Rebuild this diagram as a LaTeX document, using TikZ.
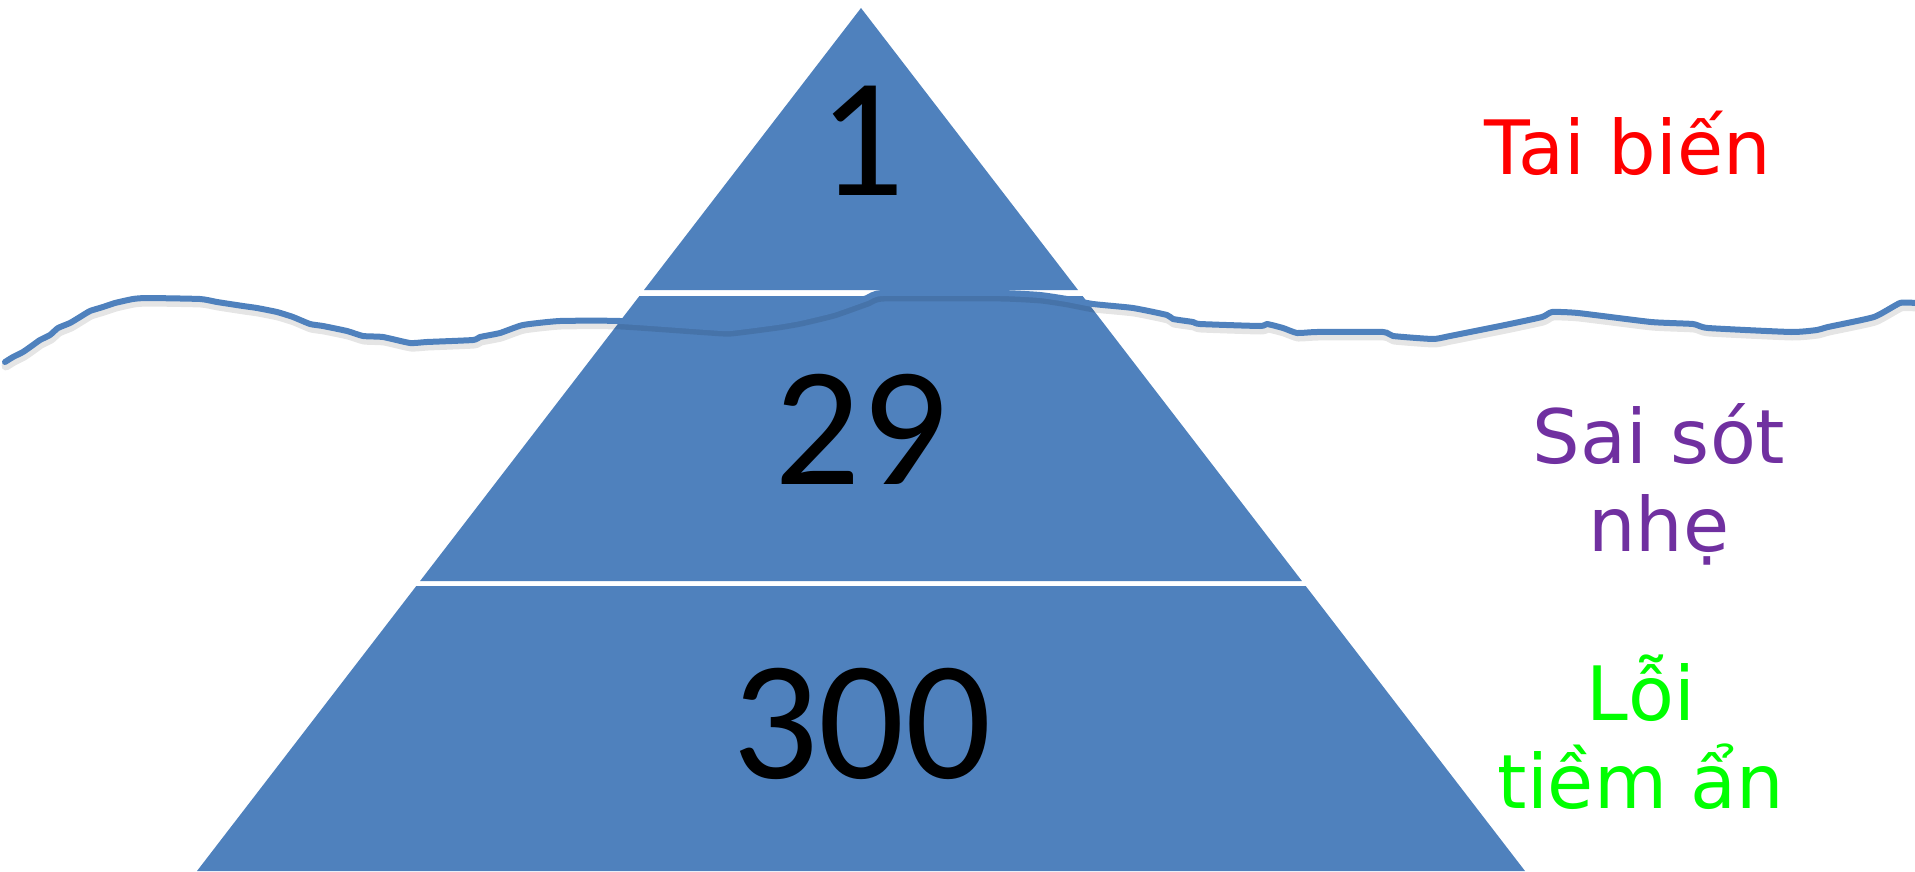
\documentclass[tikz,border=0pt]{standalone}
\usepackage{fontspec}
\newfontfamily\labfont{DejaVu Sans}
\newfontfamily\numfont{Carlito}
\definecolor{pyrblue}{HTML}{4F81BD}
\definecolor{labred}{HTML}{FF0000}
\definecolor{labpurple}{HTML}{7030A0}
\definecolor{labgreen}{HTML}{00FF00}
\tikzset{
  layer/.style={fill=pyrblue, draw=none},
  numtext/.style={font=\numfont\fontsize{170}{170}\selectfont, text=black, inner sep=0pt, anchor=base},
  labtext/.style={font=\labfont\fontsize{75}{88}\selectfont, inner sep=0pt, anchor=base, align=center},
  wave/.style={draw=pyrblue, line width=6pt, line cap=round, line join=round},
  waveshadow/.style={draw=black, opacity=0.10, line width=9pt, line cap=round, line join=round}
}
\begin{document}
\begin{tikzpicture}[x=1pt, y=-1pt]
\useasboundingbox (0,0) rectangle (1915,872);
% pyramid layers
\path[layer] (861,8) -- (1078.0,290) -- (644.0,290) -- cycle;
\path[layer] (639.4,296) -- (1082.6,296) -- (1301.9,581) -- (420.1,581) -- cycle;
\path[layer] (416.3,586) -- (1305.7,586) -- (1525,871) -- (197,871) -- cycle;
% numbers
\node[numtext] (n1) at (862,195) {1};
\node[numtext] (n29) at (861,484) {29};
\node[numtext] (n300) at (862,778) {300};
% waterline
\def\wavepath{(5,362) (13,357) (23,352) (33,345) (40,340) (50,335) (58,328) (70,323) (80,317) (90,311) (103,307) (115,303) (133,299) (147,298) (200,299) (217,302) (243,306) (257,308) (277,312) (293,317) (310,324) (323,326) (347,331) (363,336) (383,337) (410,343) (427,342) (473,340) (480,337) (500,333) (523,325) (560,321) (620,321) (707,327) (730,328) (777,322) (800,318) (833,310) (867,298) (883,293) (1000,293) (1040,295) (1067,299) (1093,304) (1133,308) (1167,315) (1173,319) (1193,322) (1200,324) (1260,326) (1267,324) (1283,328) (1297,333) (1317,332) (1383,332) (1393,336) (1433,339) (1450,336) (1505,325) (1542,317) (1552,312) (1578,313) (1651,322) (1693,324) (1708,328) (1791,332) (1817,330) (1828,327) (1874,317) (1900,303) (1915,303)}
\begin{scope}[shift={(1,4)}]
\draw[waveshadow] plot[smooth, tension=0.3] coordinates \wavepath;
\end{scope}
\draw[wave] plot[smooth, tension=0.3] coordinates \wavepath;
% labels
\node[labtext, text=labred] (l1) at (1628,175) {Tai biến};
\node[labtext, text=labpurple] (l2) at (1659,551) {Sai sót\\nhẹ};
\node[labtext, text=labgreen] (l3) at (1641,808) {Lỗi\\tiềm ẩn};
\end{tikzpicture}
\end{document}
